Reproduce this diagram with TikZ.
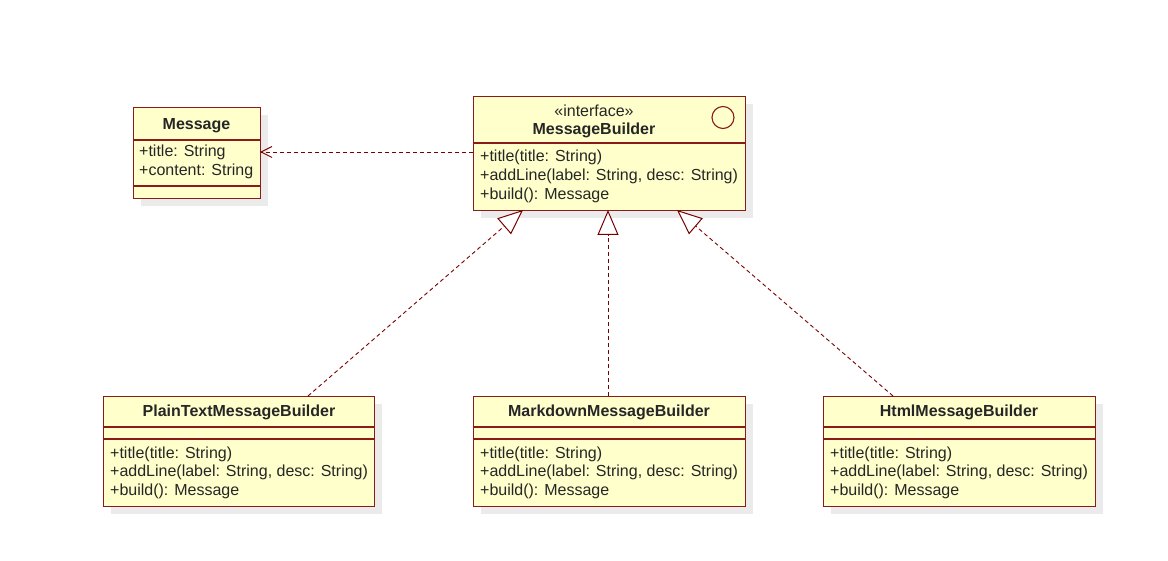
\documentclass[tikz,border=0pt]{standalone}
\usepackage{fontspec}
\setmainfont{Liberation Sans}
\usetikzlibrary{arrows.meta}
\definecolor{umlborder}{HTML}{8B1A1A}
\definecolor{umlfill}{HTML}{FFFFCC}
\definecolor{umlshadow}{HTML}{EBEBEB}
\definecolor{umlline}{HTML}{7A0000}
\tikzset{
  classbox/.style={draw=umlborder, fill=umlfill, line width=1.1pt, inner sep=0pt, anchor=north west},
  shadowbox/.style={fill=umlshadow, draw=none},
  divider/.style={draw=umlborder, line width=1.1pt},
  txt/.style={inner sep=0pt, yshift=-1.5pt, font=\fontsize{16}{19}\selectfont, text=black!85},
  member/.style={txt, anchor=west},
  titletxt/.style={txt, font=\fontsize{16}{19}\selectfont\bfseries},
  depline/.style={draw=umlline, line width=0.9pt, dash pattern=on 4pt off 3pt, -{Straight Barb[length=11pt,width=11pt,line width=0.9pt]}},
  realline/.style={draw=umlline, line width=0.9pt, dash pattern=on 4pt off 3pt, -{Triangle[open,length=25pt,width=21pt,line width=1pt,fill=white]}},
}
\begin{document}
\begin{tikzpicture}[x=1pt,y=-1pt]
\useasboundingbox (0,0) rectangle (1168,561);
% shadows
\fill[umlshadow] (141,115) rectangle (268,206);
\fill[umlshadow] (481,104) rectangle (753,218);
\fill[umlshadow] (111,404) rectangle (382,514);
\fill[umlshadow] (481,404) rectangle (753,514);
\fill[umlshadow] (831,404) rectangle (1103,514);
% Message
\node[classbox, minimum width=127pt, minimum height=91pt] (msg) at (133,107) {};
\draw[divider] (133,140) -- (260,140);
\draw[divider] (133,186) -- (260,186);
\node[titletxt] (msgT) at (196.5,124) {Message};
\node[member] (msgA1) at (139,151) {+title: String};
\node[member] (msgA2) at (139,170) {+content: String};
% MessageBuilder
\node[classbox, minimum width=272pt, minimum height=114pt] (mb) at (473,96) {};
\draw[divider] (473,143) -- (745,143);
\node[txt] (mbS) at (594,109) {«interface»};
\node[titletxt] (mbT) at (594,129) {MessageBuilder};
\draw[umlborder, line width=1.1pt] (723,117.5) circle (11);
\node[member] (mbM1) at (480,156) {+title(title: String)};
\node[member] (mbM2) at (480,175) {+addLine(label: String, desc: String)};
\node[member] (mbM3) at (480,194) {+build(): Message};
% PlainText
\node[classbox, minimum width=271pt, minimum height=110pt] (pt) at (103,396) {};
\draw[divider] (103,427) -- (374,427);
\draw[divider] (103,439) -- (374,439);
\node[titletxt] (ptT) at (239,411) {PlainTextMessageBuilder};
\node[member] (ptM1) at (110,453) {+title(title: String)};
\node[member] (ptM2) at (110,471) {+addLine(label: String, desc: String)};
\node[member] (ptM3) at (110,490) {+build(): Message};
% Markdown
\node[classbox, minimum width=272pt, minimum height=110pt] (md) at (473,396) {};
\draw[divider] (473,427) -- (745,427);
\draw[divider] (473,439) -- (745,439);
\node[titletxt] (mdT) at (609,411) {MarkdownMessageBuilder};
\node[member] (mdM1) at (480,453) {+title(title: String)};
\node[member] (mdM2) at (480,471) {+addLine(label: String, desc: String)};
\node[member] (mdM3) at (480,490) {+build(): Message};
% Html
\node[classbox, minimum width=272pt, minimum height=110pt] (ht) at (823,396) {};
\draw[divider] (823,427) -- (1095,427);
\draw[divider] (823,439) -- (1095,439);
\node[titletxt] (htT) at (959,411) {HtmlMessageBuilder};
\node[member] (htM1) at (830,453) {+title(title: String)};
\node[member] (htM2) at (830,471) {+addLine(label: String, desc: String)};
\node[member] (htM3) at (830,490) {+build(): Message};
% connectors
\coordinate (depS) at (473,152);
\coordinate (depE) at (260,152);
\draw[depline] (depS) -- (depE);
\coordinate (r1s) at (308,396); \coordinate (r1e) at (523,210);
\coordinate (r2s) at (608,396); \coordinate (r2e) at (608,210);
\coordinate (r3s) at (893,396); \coordinate (r3e) at (677,210);
\draw[realline] (r1s) -- (r1e);
\draw[realline] (r2s) -- (r2e);
\draw[realline] (r3s) -- (r3e);
\end{tikzpicture}
\end{document}
